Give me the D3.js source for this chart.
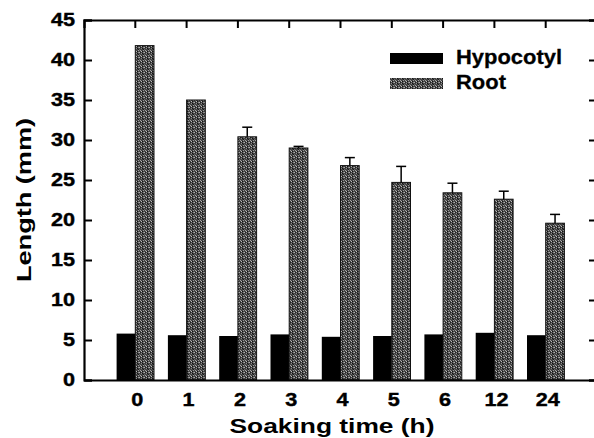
<!DOCTYPE html>
<html>
<head>
<meta charset="utf-8">
<script src="https://cdn.jsdelivr.net/npm/d3@7"></script>
<style>
  body { margin: 0; background: #fff; }
  text { font-family: "Liberation Sans", Arial, sans-serif; font-weight: bold; fill: #000; }
</style>
</head>
<body>
<div id="chart"></div>
<script>
/* chart data */
const times = ["0", "1", "2", "3", "4", "5", "6", "12", "24"];
const hypocotyl = [5.8, 5.6, 5.5, 5.7, 5.4, 5.5, 5.7, 5.9, 5.6];
const root = [41.8, 35.0, 30.4, 29.0, 26.8, 24.7, 23.4, 22.6, 19.6];
const rootErr = [0, 0, 1.2, 0.2, 1.0, 2.0, 1.2, 1.0, 1.1];
const yTicks = [0, 5, 10, 15, 20, 25, 30, 35, 40, 45];
const seriesNames = ["Hypocotyl", "Root"];

const width = 594;
const height = 438;
const plotL = 84, plotR = 597, plotT = 20, plotB = 380;

const svg = d3.select("#chart").append("svg")
  .attr("width", width)
  .attr("height", height);

// speckled grey fill for the root bars
const pat = svg.append("defs").append("pattern")
  .attr("id", "speckle")
  .attr("patternUnits", "userSpaceOnUse")
  .attr("width", 5).attr("height", 5);
pat.append("rect").attr("width", 5).attr("height", 5).attr("fill", "#444");
[[0, 0, "#a0a0a0"], [2, 1, "#111"], [4, 2, "#b0b0b0"], [1, 3, "#8a8a8a"],
 [3, 4, "#1a1a1a"], [0, 2, "#222"], [3, 0, "#999"], [1, 1, "#c0c0c0"], [4, 4, "#6a6a6a"],
 [2, 3, "#111"], [3, 2, "#888"]]
  .forEach(([px, py, c]) => {
    pat.append("rect").attr("x", px).attr("y", py)
      .attr("width", 1).attr("height", 1).attr("fill", c);
  });

const x = d3.scaleBand()
  .domain(times)
  .range([plotL, plotR])
  .paddingOuter(0.5)
  .paddingInner(0);

const y = d3.scaleLinear()
  .domain([0, 45])
  .range([plotB, plotT]);

const barW = 18.7;

// Hypocotyl bars
svg.append("g").selectAll("rect")
  .data(times)
  .join("rect")
  .attr("x", d => x(d) + x.bandwidth() / 2 - barW)
  .attr("y", (d, i) => y(hypocotyl[i]))
  .attr("width", barW)
  .attr("height", (d, i) => y(0) - y(hypocotyl[i]))
  .attr("fill", "#000");

// Root bars
svg.append("g").selectAll("rect")
  .data(times)
  .join("rect")
  .attr("x", d => x(d) + x.bandwidth() / 2)
  .attr("y", (d, i) => y(root[i]))
  .attr("width", barW)
  .attr("height", (d, i) => y(0) - y(root[i]))
  .attr("fill", "url(#speckle)")
  .attr("stroke", "#111")
  .attr("stroke-width", 1);

// error bars (upper only)
const errG = svg.append("g").attr("stroke", "#000").attr("stroke-width", 1.5);
times.forEach((t, i) => {
  if (!rootErr[i]) return;
  const cx = x(t) + x.bandwidth() / 2 + barW / 2;
  errG.append("line")
    .attr("x1", cx).attr("x2", cx)
    .attr("y1", y(root[i])).attr("y2", y(root[i] + rootErr[i]));
  errG.append("line")
    .attr("x1", cx - 5).attr("x2", cx + 5)
    .attr("y1", y(root[i] + rootErr[i])).attr("y2", y(root[i] + rootErr[i]));
});

// axes
const yAxis = svg.append("g")
  .attr("transform", `translate(${plotL},0)`)
  .call(d3.axisLeft(y).tickValues(yTicks).tickSize(-8).tickPadding(9));

svg.append("g")
  .attr("transform", `translate(${plotR},0)`)
  .call(d3.axisRight(y).tickValues(yTicks).tickSize(-8).tickFormat(""));

const xAxis = svg.append("g")
  .attr("transform", `translate(0,${plotB})`)
  .call(d3.axisBottom(x).tickSize(0).tickPadding(13));

svg.append("g")
  .attr("transform", `translate(0,${plotT})`)
  .call(d3.axisTop(x).tickSize(-8).tickFormat(""));

svg.selectAll(".domain").attr("stroke", "#000").attr("stroke-width", 2.2);
svg.selectAll(".tick line").attr("stroke", "#000").attr("stroke-width", 2);

yAxis.selectAll(".tick text")
  .attr("font-size", 18)
  .attr("x", null)
  .attr("stroke", "#000").attr("stroke-width", 0.4)
  .attr("transform", "translate(-9,0) scale(1.2,1)");

xAxis.selectAll(".tick text")
  .attr("font-size", 18)
  .attr("stroke", "#000").attr("stroke-width", 0.4)
  .attr("transform", "translate(2,0) scale(1.2,1)");

// axis titles
svg.append("text")
  .attr("x", 332)
  .attr("y", 433)
  .attr("text-anchor", "middle")
  .attr("font-size", 20)
  .attr("textLength", 205)
  .attr("lengthAdjust", "spacingAndGlyphs")
  .text("Soaking time (h)");

svg.append("text")
  .attr("transform", "translate(31,200) rotate(-90)")
  .attr("text-anchor", "middle")
  .attr("font-size", 21)
  .attr("textLength", 164)
  .attr("lengthAdjust", "spacingAndGlyphs")
  .text("Length (mm)");

// legend
const legend = svg.append("g");
const fills = ["#000", "url(#speckle)"];
seriesNames.forEach((name, i) => {
  const yy = 53 + i * 25;
  legend.append("rect")
    .attr("x", 390).attr("y", yy)
    .attr("width", 53).attr("height", 11)
    .attr("fill", fills[i]);
  legend.append("text")
    .attr("x", 456).attr("y", yy + 11)
    .attr("font-size", 21)
    .attr("stroke", "#000").attr("stroke-width", 0.3)
    .attr("textLength", i === 0 ? 106 : 50)
    .attr("lengthAdjust", "spacingAndGlyphs")
    .text(name);
});
</script>
</body>
</html>
